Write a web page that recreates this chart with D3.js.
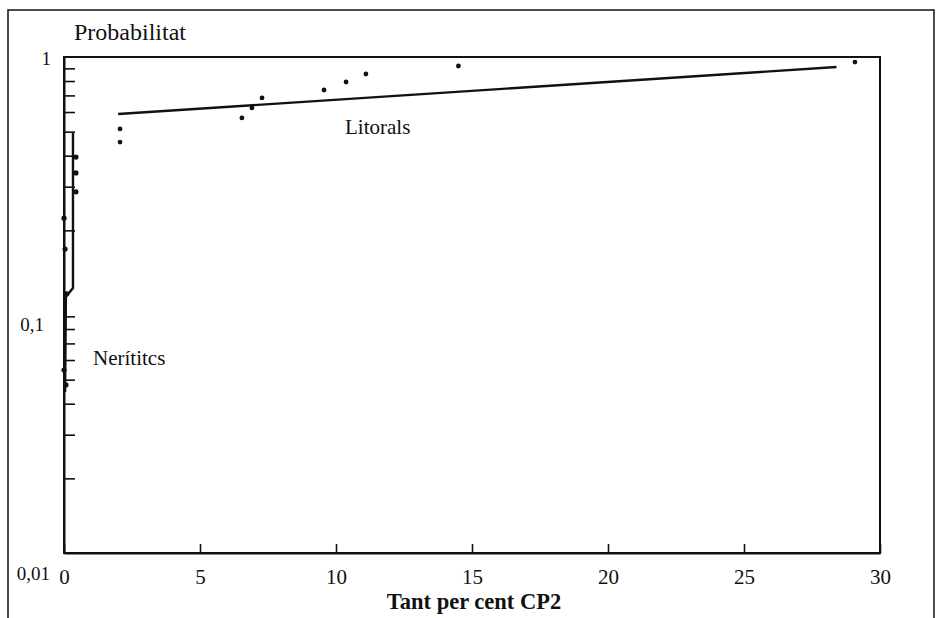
<!DOCTYPE html>
<html>
<head>
<meta charset="utf-8">
<script src="https://cdn.jsdelivr.net/npm/d3@7"></script>
<style>
  body { margin: 0; background: #fff; }
  svg { display: block; }
  text { font-family: "Liberation Serif", "DejaVu Serif", serif; fill: #111; }
</style>
</head>
<body>
<svg id="chart" width="941" height="618"></svg>
<script>
// observed points, litorals (x = % CP2, p = probability)
var litX = [2.06, 2.06, 6.54, 6.91, 7.28, 9.56, 10.37, 11.1, 14.5, 29.08];
var litP = [0.513, 0.454, 0.568, 0.623, 0.684, 0.736, 0.793, 0.854, 0.920, 0.954];
// fitted curve, litorals
var litFitX = [1.99, 28.4];
var litFitP = [0.589, 0.911];

// observed points, nerítics
var nerX = [0.44, 0.44, 0.44, 0.0, 0.04, 0.1, 0.0, 0.07];
var nerP = [0.395, 0.341, 0.286, 0.224, 0.168, 0.111, 0.0547, 0.0476];
// fitted curve, nerítics
var nerFitX = [0.33, 0.33, 0.07, 0.04];
var nerFitP = [0.494, 0.117, 0.108, 0.0446];

var xTicks = [0, 5, 10, 15, 20, 25, 30];
var yLabels = [1, 0.1, 0.01];
var yLabelText = ["1", "0,1", "0,01"];

var svg = d3.select("#chart");
var x = d3.scaleLinear().domain([0, 30]).range([64, 880]);
var y = d3.scaleLog().domain([0.01, 1]).range([553, 57]);

// outer frame (open at the bottom)
svg.append("path")
  .attr("d", "M8,618V10H934V618")
  .attr("fill", "none").attr("stroke", "#111").attr("stroke-width", 1.5);

// plot box
svg.append("rect")
  .attr("x", x(0)).attr("y", y(1))
  .attr("width", x(30) - x(0)).attr("height", y(0.01) - y(1))
  .attr("fill", "none").attr("stroke", "#111").attr("stroke-width", 2);

// y axis with minor ticks inward
var minor = [];
[0.01, 0.1].forEach(function(d) {
  for (var k = 2; k <= 9; k++) minor.push(d * k);
});
svg.append("g")
  .attr("transform", "translate(" + x(0) + ",0)")
  .call(d3.axisLeft(y).tickValues(minor).tickSize(-11).tickSizeOuter(0).tickFormat(""))
  .call(function(g) {
    g.select(".domain").attr("stroke", "#111").attr("stroke-width", 2);
    g.selectAll(".tick line").attr("stroke", "#111").attr("stroke-width", 1.6);
  });

var yOff = [8, 26, 27];
var yEnd = [51, 44, 50];
svg.selectAll(".ylab").data(yLabels).enter().append("text")
  .attr("class", "ylab")
  .attr("x", function(d, i) { return yEnd[i]; })
  .attr("y", function(d, i) { return y(d) + yOff[i]; })
  .attr("text-anchor", "end")
  .style("font-size", "19px")
  .text(function(d, i) { return yLabelText[i]; });

// x axis
svg.append("g")
  .attr("transform", "translate(0," + y(0.01) + ")")
  .call(d3.axisBottom(x).tickValues(xTicks).tickSize(-9).tickSizeOuter(0).tickPadding(16)
    .tickFormat(d3.format("d")))
  .call(function(g) {
    g.select(".domain").attr("stroke", "#111").attr("stroke-width", 2);
    g.selectAll(".tick line").attr("stroke", "#111").attr("stroke-width", 1.6);
    g.selectAll(".tick text")
      .style("font-family", "'Liberation Serif', serif")
      .style("font-size", "21px").attr("fill", "#111");
  });

svg.append("text")
  .attr("x", 474).attr("y", 609)
  .attr("text-anchor", "middle")
  .style("font-size", "22.5px").style("font-weight", "bold")
  .text("Tant per cent CP2");

svg.append("text")
  .attr("x", 74).attr("y", 40)
  .style("font-size", "24px")
  .text("Probabilitat");

// fitted curves
var line = d3.line()
  .x(function(d) { return x(d[0]); })
  .y(function(d) { return y(d[1]); });

svg.append("path")
  .datum(d3.zip(litFitX, litFitP))
  .attr("d", line)
  .attr("fill", "none").attr("stroke", "#111").attr("stroke-width", 2.4);

svg.append("path")
  .datum(d3.zip(nerFitX, nerFitP))
  .attr("d", line)
  .attr("fill", "none").attr("stroke", "#111").attr("stroke-width", 2.4);

// points
svg.selectAll(".lit").data(d3.zip(litX, litP)).enter().append("circle")
  .attr("class", "lit")
  .attr("cx", function(d) { return x(d[0]); })
  .attr("cy", function(d) { return y(d[1]); })
  .attr("r", 2.4).attr("fill", "#111");

svg.selectAll(".ner").data(d3.zip(nerX, nerP)).enter().append("circle")
  .attr("class", "ner")
  .attr("cx", function(d) { return x(d[0]); })
  .attr("cy", function(d) { return y(d[1]); })
  .attr("r", 2.6).attr("fill", "#111");

svg.append("text")
  .attr("x", 345).attr("y", 134)
  .style("font-size", "21px")
  .text("Litorals");

svg.append("text")
  .attr("x", 93).attr("y", 365)
  .style("font-size", "21px")
  .text("Nerítitcs");
</script>
</body>
</html>
